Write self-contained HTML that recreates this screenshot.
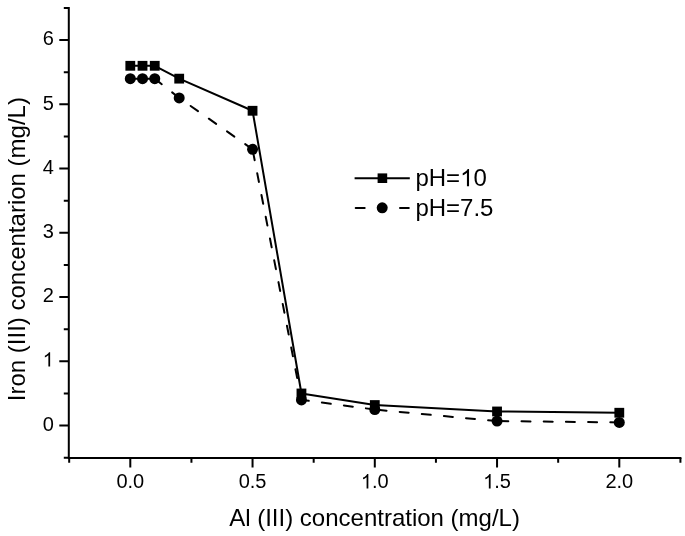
<!DOCTYPE html>
<html><head><meta charset="utf-8"><style>
html,body{margin:0;padding:0;background:#fff;}
body{width:685px;height:536px;overflow:hidden;}
svg{display:block;will-change:transform;font-family:"Liberation Sans",sans-serif;}
</style></head><body>
<svg width="685" height="536" viewBox="0 0 685 536" fill="#000">
<rect width="685" height="536" fill="#fff"/>
<path d="M68.80 7.98 V457.90 M69.18 457.90 H680.42" stroke="#000" stroke-width="2.0" fill="none" stroke-linecap="square"/>
<path d="M68.80 425.60 H59.30 M68.80 361.35 H59.30 M68.80 297.10 H59.30 M68.80 232.85 H59.30 M68.80 168.60 H59.30 M68.80 104.35 H59.30 M68.80 40.10 H59.30 M68.80 457.73 H63.80 M68.80 393.48 H63.80 M68.80 329.23 H63.80 M68.80 264.98 H63.80 M68.80 200.73 H63.80 M68.80 136.48 H63.80 M68.80 72.23 H63.80 M68.80 7.98 H63.80 M130.30 457.90 V467.40 M252.55 457.90 V467.40 M374.80 457.90 V467.40 M497.05 457.90 V467.40 M619.30 457.90 V467.40 M69.18 457.90 V462.70 M191.43 457.90 V462.70 M313.68 457.90 V462.70 M435.93 457.90 V462.70 M558.17 457.90 V462.70 M680.42 457.90 V462.70 " stroke="#000" stroke-width="2.0" fill="none"/>
<text x="42.68" y="430.80" font-size="20">0</text>
<path transform="translate(42.68 366.55) scale(0.009766 -0.009766)" d="M763 0L583 0L583 1147Q518 1085 415 1024.5Q312 964 223 931L223 1105Q374 1176 487 1276.5Q600 1377 647 1472L763 1472Z"/>
<text x="42.68" y="302.30" font-size="20">2</text>
<text x="42.68" y="238.05" font-size="20">3</text>
<text x="42.68" y="173.80" font-size="20">4</text>
<text x="42.68" y="109.55" font-size="20">5</text>
<text x="42.68" y="45.30" font-size="20">6</text>
<text x="116.40" y="488.40" font-size="20">0.0</text>
<text x="238.65" y="488.40" font-size="20">0.5</text>
<path transform="translate(360.90 488.40) scale(0.009766 -0.009766)" d="M763 0L583 0L583 1147Q518 1085 415 1024.5Q312 964 223 931L223 1105Q374 1176 487 1276.5Q600 1377 647 1472L763 1472Z"/>
<text x="372.02" y="488.40" font-size="20">.0</text>
<path transform="translate(483.15 488.40) scale(0.009766 -0.009766)" d="M763 0L583 0L583 1147Q518 1085 415 1024.5Q312 964 223 931L223 1105Q374 1176 487 1276.5Q600 1377 647 1472L763 1472Z"/>
<text x="494.27" y="488.40" font-size="20">.5</text>
<text x="605.40" y="488.40" font-size="20">2.0</text>
<text x="229.2" y="526.4" font-size="24">Al (III) concentration (mg/L)</text>
<text transform="translate(25.4 401.2) rotate(-90)" font-size="24">Iron (III) concentarion (mg/L)</text>
<polyline points="130.30,65.80 142.53,65.80 154.75,65.80 179.20,78.65 252.55,110.77 301.45,393.48 374.80,405.04 497.05,411.47 619.30,412.75" stroke="#000" stroke-width="2" fill="none" stroke-linejoin="round"/>
<g stroke="#000" stroke-width="2" stroke-dasharray="9 13.2" stroke-linecap="round"><line x1="142.53" y1="78.65" x2="130.30" y2="78.65"/><line x1="154.75" y1="78.65" x2="142.53" y2="78.65"/><line x1="179.20" y1="97.93" x2="154.75" y2="78.65"/><line x1="252.55" y1="149.33" x2="179.20" y2="97.93"/><line x1="301.45" y1="399.90" x2="252.55" y2="149.33"/><line x1="374.80" y1="409.54" x2="301.45" y2="399.90"/><line x1="497.05" y1="421.10" x2="374.80" y2="409.54"/><line x1="619.30" y1="422.39" x2="497.05" y2="421.10"/></g>
<rect x="125.40" y="60.90" width="9.8" height="9.8"/>
<rect x="137.62" y="60.90" width="9.8" height="9.8"/>
<rect x="149.85" y="60.90" width="9.8" height="9.8"/>
<rect x="174.30" y="73.75" width="9.8" height="9.8"/>
<rect x="247.65" y="105.87" width="9.8" height="9.8"/>
<rect x="296.55" y="388.58" width="9.8" height="9.8"/>
<rect x="369.90" y="400.14" width="9.8" height="9.8"/>
<rect x="492.15" y="406.57" width="9.8" height="9.8"/>
<rect x="614.40" y="407.85" width="9.8" height="9.8"/>
<circle cx="130.30" cy="78.65" r="5.5"/>
<circle cx="142.53" cy="78.65" r="5.5"/>
<circle cx="154.75" cy="78.65" r="5.5"/>
<circle cx="179.20" cy="97.93" r="5.5"/>
<circle cx="252.55" cy="149.33" r="5.5"/>
<circle cx="301.45" cy="399.90" r="5.5"/>
<circle cx="374.80" cy="409.54" r="5.5"/>
<circle cx="497.05" cy="421.10" r="5.5"/>
<circle cx="619.30" cy="422.39" r="5.5"/>
<path d="M354.6 178.2 H409.8" stroke="#000" stroke-width="2"/>
<rect x="377.6" y="173.4" width="9.6" height="9.6"/>
<path d="M355.7 207.9 H364.7 M400 207.9 H408.8" stroke="#000" stroke-width="2" stroke-linecap="round"/>
<circle cx="382.2" cy="207.8" r="5.5"/>
<text x="415.40" y="186.20" font-size="24">pH=</text>
<path transform="translate(460.10 186.20) scale(0.011719 -0.011719)" d="M763 0L583 0L583 1147Q518 1085 415 1024.5Q312 964 223 931L223 1105Q374 1176 487 1276.5Q600 1377 647 1472L763 1472Z"/>
<text x="473.44" y="186.20" font-size="24">0</text>
<text x="415.4" y="215.8" font-size="24">pH=7.5</text>
</svg>
</body></html>
